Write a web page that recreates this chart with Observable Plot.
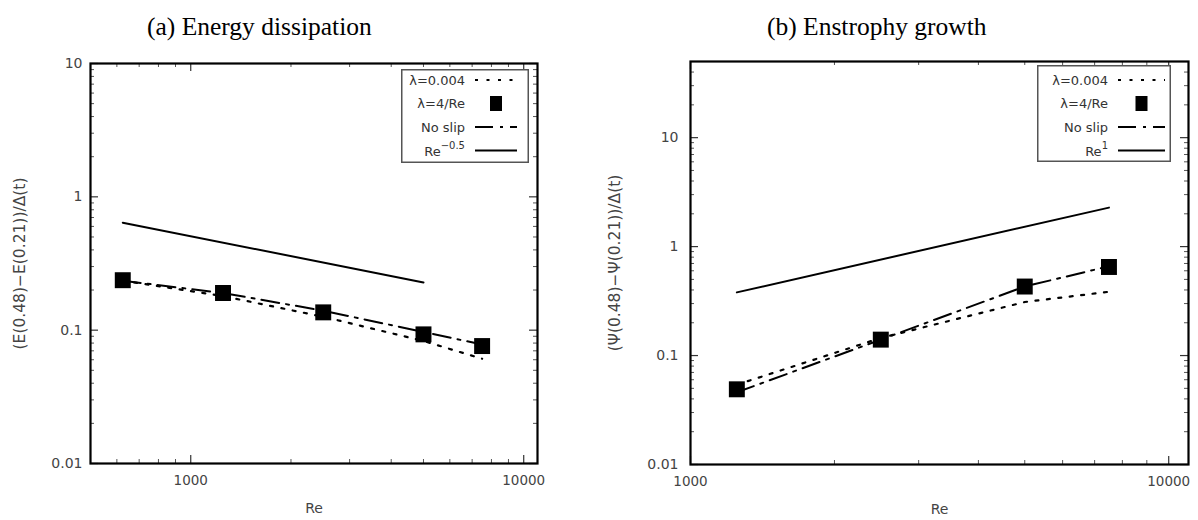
<!DOCTYPE html>
<html><head><meta charset="utf-8">
<script src="https://cdn.jsdelivr.net/npm/d3@7"></script>
<script src="https://cdn.jsdelivr.net/npm/@observablehq/plot@0.6"></script>
<style>
body{margin:0;background:#fff;}
#wrap{position:relative;width:1198px;height:520px;overflow:hidden;background:#fff;}
.title{position:absolute;top:14px;font-family:"Liberation Serif","Times New Roman",serif;font-size:25.5px;line-height:26px;color:#000;white-space:nowrap;}
.panel{position:absolute;top:50px;}
.legend{position:absolute;}
</style></head><body><div id="wrap"></div>
<script>
// ---- Panel (a) Energy dissipation ----
const reA = [625, 1250, 2500, 5000, 7500];
const lamConstA = [0.235, 0.18, 0.126, 0.083, 0.061];   // λ=0.004
const lamReA    = [0.237, 0.19, 0.136, 0.093, 0.076];   // λ=4/Re
const noSlipA   = [0.235, 0.19, 0.14, 0.097, 0.078];    // No slip
const powReA    = [625, 5000];
const powA      = [0.64, 0.228];                        // Re^-0.5 reference

// ---- Panel (b) Enstrophy growth ----
const reB = [1250, 2500, 5000, 7500];
const lamConstB = [0.054, 0.145, 0.31, 0.385];
const lamReB    = [0.049, 0.14, 0.43, 0.65];
const noSlipB   = [0.046, 0.14, 0.43, 0.66];
const powReB    = [1250, 7500];
const powB      = [0.38, 2.28];                          // Re^1 reference

const titles = ["(a) Energy dissipation", "(b) Enstrophy growth"];
const yLabels = ["(E(0.48)\u2212E(0.21))/\u0394(t)", "(\u03A8(0.48)\u2212\u03A8(0.21))/\u0394(t)"];
const xLabel = "Re";
const xMajor = [1000, 10000];
const xMinor = [500, 600, 700, 800, 900, 2000, 3000, 4000, 5000, 6000, 7000, 8000, 9000];
const yMajorA = [0.01, 0.1, 1, 10];
const yMajorB = [0.01, 0.1, 1, 10];
const yMinor = [0.02,0.03,0.04,0.05,0.06,0.07,0.08,0.09,0.2,0.3,0.4,0.5,0.6,0.7,0.8,0.9,2,3,4,5,6,7,8,9,20,30,40,50];
const legendNames = ["\u03BB=0.004", "\u03BB=4/Re", "No slip"];
const powNames = [["Re", "\u22120.5"], ["Re", "1"]];

const FONT = "'DejaVu Sans', 'Liberation Sans', Arial, sans-serif";
const DOT = "3,8.5";
const DASHDOT = "18,7,3,7";

const rows = (re, vals) => re.map((r, i) => ({re: r, v: vals[i]}));

function panel(o) {
  const innerH = o.height - o.marginTop - o.marginBottom;
  const yMin = o.yMinor.filter(v => v > o.yDomain[0] && v < o.yDomain[1]);
  const xMin = xMinor.filter(v => v > o.xDomain[0] && v < o.xDomain[1]);
  const innerW = o.width - o.marginLeft - o.marginRight;
  return Plot.plot({
    width: o.width, height: o.height,
    marginLeft: o.marginLeft, marginRight: o.marginRight,
    marginTop: o.marginTop, marginBottom: o.marginBottom,
    style: {fontFamily: FONT, background: "transparent", overflow: "visible"},
    x: {type: "log", domain: o.xDomain},
    y: {type: "log", domain: o.yDomain},
    marks: [
      // minor ticks (inward, mirrored)
      Plot.tickX(xMin, {x: d => d, insetTop: innerH - 4, stroke: "#555", strokeWidth: 1}),
      Plot.tickX(xMin, {x: d => d, insetBottom: innerH - 4, stroke: "#555", strokeWidth: 1}),
      Plot.tickY(yMin, {y: d => d, insetRight: innerW - 4, stroke: "#555", strokeWidth: 1}),
      Plot.tickY(yMin, {y: d => d, insetLeft: innerW - 4, stroke: "#555", strokeWidth: 1}),
      // major ticks
      Plot.tickX(xMajor, {x: d => d, insetTop: innerH - 8, stroke: "#333", strokeWidth: 1.2}),
      Plot.tickX(xMajor, {x: d => d, insetBottom: innerH - 8, stroke: "#333", strokeWidth: 1.2}),
      Plot.tickY(o.yMajor, {y: d => d, insetRight: innerW - 8, stroke: "#333", strokeWidth: 1.2}),
      Plot.tickY(o.yMajor, {y: d => d, insetLeft: innerW - 8, stroke: "#333", strokeWidth: 1.2}),
      Plot.axisX(xMajor, {tickSize: 0, tickPadding: 12, tickFormat: d => String(d), fontSize: 13.5, fill: "#444", label: null}),
      Plot.axisY(o.yMajor, {tickSize: 0, tickPadding: o.yPad, tickFormat: d => String(d), fontSize: 14, fill: "#444", label: null}),
      Plot.text([o.yLabel], {frameAnchor: "left", textAnchor: "middle", dx: o.yLabelDx, rotate: -90, fontSize: 15.5, fill: "#444", text: d => d}),
      Plot.text([xLabel], {frameAnchor: "bottom", dy: 49, fontSize: 14, fill: "#444", text: d => d}),
      // data
      Plot.line(rows(o.powRe, o.pow), {x: "re", y: "v", stroke: "#000", strokeWidth: 2}),
      Plot.line(rows(o.re, o.lamConst), {x: "re", y: "v", stroke: "#000", strokeWidth: 2.2, strokeDasharray: DOT}),
      Plot.line(rows(o.re, o.noSlip), {x: "re", y: "v", stroke: "#000", strokeWidth: 2, strokeDasharray: DASHDOT}),
      Plot.dot(rows(o.re, o.lamRe), {x: "re", y: "v", symbol: "square", r: 9, fill: "#000", stroke: "none"}),
      Plot.frame({stroke: "#000", strokeWidth: 2.2})
    ]
  });
}

function legend(o) {
  const ns = "http://www.w3.org/2000/svg";
  const svg = document.createElementNS(ns, "svg");
  svg.setAttribute("width", o.w); svg.setAttribute("height", o.h);
  svg.setAttribute("class", "legend");
  svg.style.left = o.left + "px"; svg.style.top = o.top + "px";
  const el = (tag, attrs, parent = svg) => { const e = document.createElementNS(ns, tag); for (const k in attrs) e.setAttribute(k, attrs[k]); parent.appendChild(e); return e; };
  el("rect", {x: 0.75, y: 0.75, width: o.w - 1.5, height: o.h - 1.5, fill: "#fff", stroke: "#555", "stroke-width": 1.5});
  const labels = [...legendNames, null];
  const styles = ["dot", "square", "dashdot", "solid"];
  for (let i = 0; i < 4; i++) {
    const cy = o.row0 + i * o.step;
    const t = el("text", {x: o.textRight, y: cy, "text-anchor": "end", "dominant-baseline": "central", "font-family": FONT, "font-size": 13, fill: "#333"});
    if (labels[i]) t.textContent = labels[i];
    else {
      const a = el("tspan", {}, t); a.textContent = o.pow[0];
      const b = el("tspan", {dy: -6, "font-size": 10}, t); b.textContent = o.pow[1];
    }
    const s = styles[i];
    if (s === "square") el("rect", {x: (o.s1 + o.s2) / 2 - 6, y: cy - 7.5, width: 12, height: 15, fill: "#000"});
    else el("line", {x1: o.s1, x2: o.s2, y1: cy, y2: cy, stroke: "#000", "stroke-width": 2,
      "stroke-dasharray": s === "dot" ? DOT : s === "dashdot" ? DASHDOT : "none"});
  }
  return svg;
}

const wrap = document.getElementById("wrap");
titles.forEach((t, i) => {
  const d = document.createElement("div");
  d.className = "title"; d.textContent = t;
  d.style.left = (i === 0 ? 147 : 767) + "px";
  wrap.appendChild(d);
});

const pA = panel({width: 600, height: 470, marginLeft: 90, marginRight: 63, marginTop: 13, marginBottom: 57,
  xDomain: [500, 11000], yDomain: [0.01, 10], yMajor: yMajorA, yMinor, yPad: 8, yLabelDx: -70,
  yLabel: yLabels[0], re: reA, lamConst: lamConstA, lamRe: lamReA, noSlip: noSlipA, powRe: powReA, pow: powA});
pA.classList.add("panel"); pA.style.left = "0px"; wrap.appendChild(pA);

const pB = panel({width: 598, height: 470, marginLeft: 90, marginRight: 10, marginTop: 11, marginBottom: 56,
  xDomain: [1000, 11000], yDomain: [0.01, 50], yMajor: yMajorB, yMinor, yPad: 12, yLabelDx: -75,
  yLabel: yLabels[1], re: reB, lamConst: lamConstB, lamRe: lamReB, noSlip: noSlipB, powRe: powReB, pow: powB});
pB.classList.add("panel"); pB.style.left = "600px"; wrap.appendChild(pB);

wrap.appendChild(legend({left: 401, top: 69, w: 128, h: 94, row0: 11, step: 23.5, textRight: 64, s1: 74, s2: 116, pow: powNames[0]}));
wrap.appendChild(legend({left: 1037, top: 65, w: 134, h: 97, row0: 15, step: 23.5, textRight: 71, s1: 81, s2: 128, pow: powNames[1]}));
</script>
</body></html>
